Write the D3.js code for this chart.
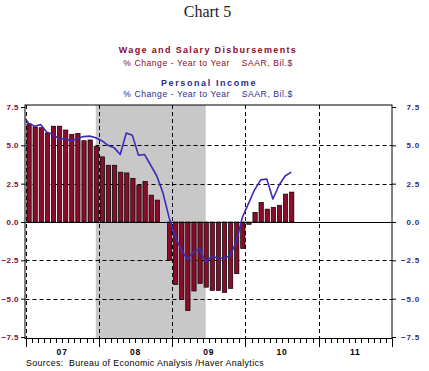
<!DOCTYPE html>
<html><head><meta charset="utf-8">
<script src="https://cdn.jsdelivr.net/npm/d3@7"></script>
<style>
html,body{margin:0;padding:0;background:#fff;}
svg{display:block;}
text{font-family:"Liberation Sans",Arial,sans-serif;}
</style></head>
<body>
<svg id="c" width="429" height="371"></svg>
<script>
// ---- data ----
const months = [
 "2007-01","2007-02","2007-03","2007-04","2007-05","2007-06","2007-07","2007-08","2007-09","2007-10","2007-11","2007-12",
 "2008-01","2008-02","2008-03","2008-04","2008-05","2008-06","2008-07","2008-08","2008-09","2008-10","2008-11","2008-12",
 "2009-01","2009-02","2009-03","2009-04","2009-05","2009-06","2009-07","2009-08","2009-09","2009-10","2009-11","2009-12",
 "2010-01","2010-02","2010-03","2010-04","2010-05","2010-06","2010-07","2010-08"];
const wages = [
 6.4, 6.2, 6.15, 5.8, 6.25, 6.25, 6.0, 5.72, 5.78, 5.3, 5.35, 4.92,
 4.25, 3.7, 3.7, 3.25, 3.2, 2.85, 2.4, 2.65, 1.75, 1.43, 0.0, -2.5,
 -4.07, -5.05, -5.78, -4.5, -4.0, -4.25, -4.46, -4.46, -4.59, -4.33, -3.37, -1.73,
 -0.15, 0.63, 1.28, 0.84, 0.96, 1.09, 1.82, 1.95];
const income = [
 6.45, 6.25, 6.35, 5.85, 5.72, 5.4, 5.45, 5.28, 5.45, 5.57, 5.6, 5.5,
 5.3, 5.0, 4.85, 4.4, 5.8, 5.65, 4.35, 4.4, 3.7, 3.0, 1.9, 0.3,
 -0.95, -1.8, -2.45, -1.95, -1.75, -2.6, -2.25, -2.35, -2.35, -2.2, -1.3, 0.3,
 1.2, 2.1, 2.75, 2.8, 1.5, 2.4, 3.0, 3.25];
const incomePrev = {month:"2006-12", value:7.0};
const recession = {start:"2007-12", end:"2009-06"};
const yTicks = [7.5, 5.0, 2.5, 0.0, -2.5, -5.0, -7.5];
const years = ["07","08","09","10","11"];
const axisStart = "2007-01", axisEnd = "2012-01";

// ---- helpers ----
const mIdx = s => { const [y,m]=s.split("-").map(Number); return (y-2007)*12 + (m-1); };
const svg = d3.select("#c");
const L=25.5, R=392, T=105, B=338.5;
const x = d3.scaleLinear().domain([mIdx(axisStart), mIdx(axisEnd)]).range([L, R]);
const y = d3.scaleLinear().domain([-7.5, 7.5]).range([337, 107]);
const red = "#8a0b2a", blue = "#2f2a8c", lineCol = "#3b2bb8";

// titles
svg.append("text").attr("x",207.5).attr("y",17).attr("text-anchor","middle")
  .style("font-family","'Liberation Serif','Times New Roman',serif").style("font-size","16px").attr("fill","#222").text("Chart 5");
svg.append("text").attr("x",208).attr("y",53).attr("text-anchor","middle")
  .style("font-size","9px").style("font-weight","bold").style("letter-spacing","1.35px").attr("fill",red)
  .text("Wage and Salary Disbursements");
svg.append("text").attr("x",208).attr("y",65.5).attr("text-anchor","middle")
  .style("font-size","8.6px").style("white-space","pre").style("letter-spacing","0.55px").attr("fill",red)
  .text("% Change - Year to Year    SAAR, Bil.$");
svg.append("text").attr("x",209).attr("y",86).attr("text-anchor","middle")
  .style("font-size","9px").style("font-weight","bold").style("letter-spacing","1.6px").attr("fill",blue)
  .text("Personal Income");
svg.append("text").attr("x",208).attr("y",97).attr("text-anchor","middle")
  .style("font-size","8.6px").style("white-space","pre").style("letter-spacing","0.55px").attr("fill",blue)
  .text("% Change - Year to Year    SAAR, Bil.$");

// clip
svg.append("clipPath").attr("id","clip").append("rect")
  .attr("x",L).attr("y",T).attr("width",R-L).attr("height",B-T);

// recession shading
svg.append("rect")
  .attr("x", x(mIdx(recession.start)+0.5)).attr("y", T)
  .attr("width", x(mIdx(recession.end)+0.5) - x(mIdx(recession.start)+0.5))
  .attr("height", B-T).attr("fill","#c8c8c8");

// gridlines
const grid = svg.append("g").attr("stroke","#000").attr("stroke-width",1).attr("stroke-dasharray","4,3");
yTicks.filter(v => v!==0 && Math.abs(v)!==7.5).forEach(v=>{
  grid.append("line").attr("x1",L).attr("x2",R).attr("y1",Math.round(y(v))+0.5).attr("y2",Math.round(y(v))+0.5);
});
years.forEach((yr,i)=>{
  const xv = Math.round(x(mIdx(`20${yr}-01`)))+0.5;
  grid.append("line").attr("x1",xv).attr("x2",xv).attr("y1",T).attr("y2",B);
});

// bars
const bw = 4.3;
svg.append("g").selectAll("rect").data(months.filter((d,i)=>wages[i]!==0)).join("rect")
  .attr("x",(d)=> x(mIdx(d)+0.5) - bw/2 + 0.5)
  .attr("width",bw)
  .attr("y",(d)=> { const v = wages[months.indexOf(d)]; return Math.min(y(v), y(0)); })
  .attr("height",(d)=> Math.abs(y(wages[months.indexOf(d)]) - y(0)))
  .attr("fill",red).attr("stroke","#000").attr("stroke-width",0.7);

// zero line
svg.append("line").attr("x1",L).attr("x2",R).attr("y1",Math.round(y(0))+0.5).attr("y2",Math.round(y(0))+0.5)
  .attr("stroke","#000").attr("stroke-width",1);

// income line
const pts = [{m:mIdx(incomePrev.month), v:incomePrev.value}].concat(months.map((d,i)=>({m:mIdx(d), v:income[i]})));
svg.append("path").datum(pts).attr("clip-path","url(#clip)")
  .attr("d", d3.line().x(d=>x(d.m+0.5)).y(d=>y(d.v)))
  .attr("fill","none").attr("stroke",lineCol).attr("stroke-width",1.6).attr("stroke-linejoin","round");

// frame
svg.append("rect").attr("x",25).attr("y",T).attr("width",R-25).attr("height",B-T)
  .attr("fill","none").attr("stroke","#000").attr("stroke-width",1);

// left axis
const yl = d3.axisLeft(y).tickValues(yTicks).tickSize(4).tickFormat(d3.format(".1f"));
const gl = svg.append("g").attr("transform","translate(25,0)").call(yl);
gl.select(".domain").remove();
gl.selectAll("text").attr("x",-6).attr("fill",red).style("font-size","8px").style("font-weight","bold").style("letter-spacing","0.45px").style("font-family","'Liberation Sans',Arial,sans-serif");

// right axis
const yr = d3.axisRight(y).tickValues(yTicks).tickSize(4).tickFormat(d3.format(".1f"));
const gr = svg.append("g").attr("transform","translate(392,0)").call(yr);
gr.select(".domain").remove();
gr.selectAll("text").attr("x",28).attr("text-anchor","end").attr("fill",blue).style("font-size","8px").style("font-weight","bold").style("letter-spacing","0.8px").style("font-family","'Liberation Sans',Arial,sans-serif");

// bottom axis ticks
const allMonths = d3.range(mIdx(axisStart), mIdx(axisEnd)+1);
svg.append("g").selectAll("line").data(allMonths).join("line")
  .attr("x1",d=>Math.round(x(d))+0.5).attr("x2",d=>Math.round(x(d))+0.5)
  .attr("y1",B).attr("y2",d=> d%12===0 ? B+8.5 : B+4.5)
  .attr("stroke","#000").attr("stroke-width",1);
svg.append("g").selectAll("text").data(years).join("text")
  .attr("x",(d)=>x(mIdx(`20${d}-07`))).attr("y",355).attr("text-anchor","middle")
  .style("font-size","8.5px").style("font-weight","bold").style("letter-spacing","0.8px").attr("fill","#000").text(d=>d);

// source
svg.append("text").attr("x",26).attr("y",365.5).style("font-size","8.8px").style("white-space","pre").style("letter-spacing","0.35px").attr("fill","#000")
  .text("Sources:  Bureau of Economic Analysis /Haver Analytics");
</script>
</body></html>
